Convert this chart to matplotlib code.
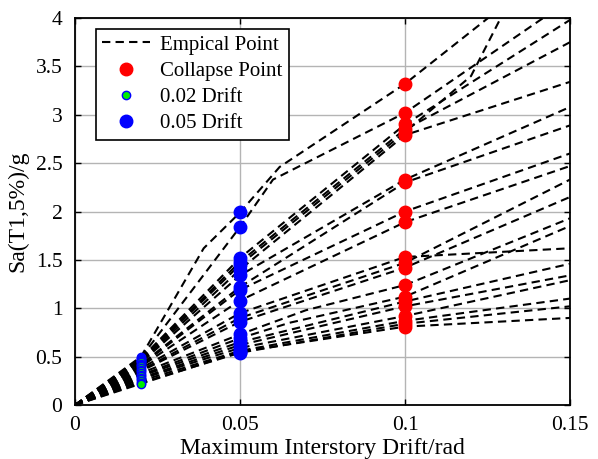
import matplotlib.pyplot as plt
import numpy as np

plt.rcParams['font.family'] = ['Liberation Serif', 'DejaVu Serif']
plt.rcParams['font.size'] = 15

# IDA curves: Sa at fixed drift levels (one entry per record)
drift_levels = [0.0, 0.02, 0.05, 0.10, 0.15]
sa_02 = [0.50, 0.49, 0.48, 0.47, 0.46, 0.45, 0.44, 0.42, 0.41, 0.40, 0.38,
         0.36, 0.35, 0.33, 0.31, 0.30, 0.28, 0.27, 0.25, 0.23, 0.22]
sa_05 = [1.99, 1.84, 1.52, 1.48, 1.45, 1.40, 1.34, 1.22, 1.19, 1.08, 0.95,
         0.90, 0.86, 0.73, 0.69, 0.65, 0.62, 0.59, 0.56, 0.54, 0.55]
sa_10 = [3.32, 3.02, 2.90, 2.85, 2.82, 2.79, 2.33, 2.30, 2.00, 1.89, 1.53,
         1.47, 1.42, 1.24, 1.12, 1.07, 1.02, 0.92, 0.87, 0.84, 0.81]
sa_15 = [4.67, 4.19, 3.98, 3.75, 5.40, 3.34, 3.08, 2.89, 2.60, 2.47, 1.62,
         2.33, 2.15, 1.93, 1.85, 1.46, 1.34, 1.29, 1.10, 1.02, 0.90]

# extra intermediate points on some records: index -> [(drift, Sa), ...]
extra = {
    0: [(0.039, 1.62), (0.062, 2.46)],
    1: [(0.060, 2.33)],
    4: [(0.120, 3.40)],
    13: [(0.070, 0.98)],
    14: [(0.065, 0.85)],
}

fig = plt.figure(figsize=(5.98, 4.59), dpi=100)
ax = fig.add_axes([0.1254, 0.1176, 0.8278, 0.8432])

for i in range(len(sa_02)):
    pts = list(zip(drift_levels, [0.0, sa_02[i], sa_05[i], sa_10[i], sa_15[i]]))
    pts += extra.get(i, [])
    pts.sort()
    x = [p[0] for p in pts]
    y = [p[1] for p in pts]
    ax.plot(x, y, '--', color='black', lw=1.5, dashes=(4, 2.5),
            label='Empical Point' if i == 0 else None, zorder=2)

n = len(sa_02)
ax.plot(np.full(n, 0.10), sa_10, 'o', color='red', ms=9, ls='none',
        label='Collapse Point', zorder=3)
ax.plot(np.full(n, 0.02), sa_02, 'o', mfc='#00ee00', mec='blue', mew=1,
        ms=6, ls='none', label='0.02 Drift', zorder=3)
ax.plot(np.full(n, 0.05), sa_05, 'o', color='blue', ms=9, ls='none',
        label='0.05 Drift', zorder=3)

ax.set_xlim(0, 0.15)
ax.set_ylim(0, 4)
ax.set_xticks([0, 0.05, 0.1, 0.15])
ax.set_xticklabels(['0', '0.05', '0.1', '0.15'])
ax.set_yticks(np.arange(0, 4.01, 0.5))
ax.set_yticklabels(['0', '0.5', '1', '1.5', '2', '2.5', '3', '3.5', '4'])
ax.tick_params(direction='in', top=True, right=True, length=4, width=1,
               labelsize=15.5)
ax.tick_params(axis='x', pad=8)
ax.tick_params(axis='y', pad=9)
ax.grid(True, color='#b4b4b4', lw=1, ls='-')
ax.set_axisbelow(True)
for s in ax.spines.values():
    s.set_linewidth(1.3)

ax.set_xlabel('Maximum Interstory Drift/rad', fontsize=17, labelpad=2)
ax.set_ylabel('Sa(T1,5%)/g', fontsize=17, labelpad=5)

leg = ax.legend(loc='upper left', bbox_to_anchor=(0.042, 0.972), fancybox=False,
                framealpha=1, edgecolor='black', fontsize=15, borderpad=0.3,
                labelspacing=0.32, handlelength=2.3, handletextpad=0.5,
                borderaxespad=0)
leg.get_frame().set_linewidth(1.2)

fig.savefig('out.png', dpi=100)
